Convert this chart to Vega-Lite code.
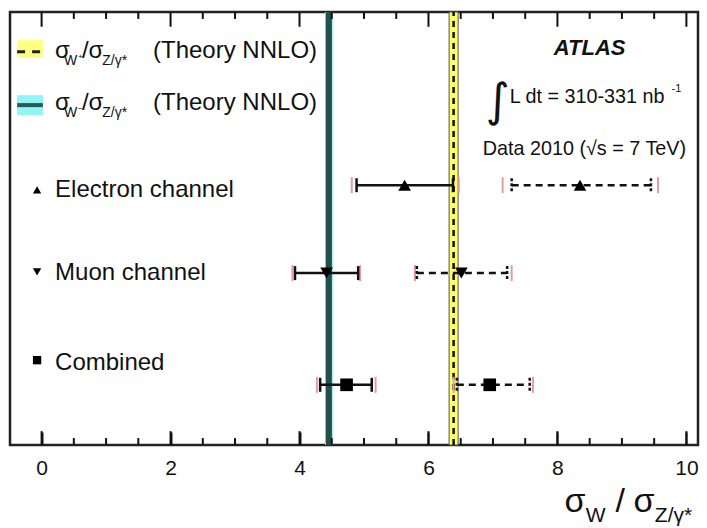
{
  "$schema": "https://vega.github.io/schema/vega-lite/v6.json",
  "width": 688,
  "height": 433,
  "autosize": {"type": "none"},
  "padding": {"left": 10, "top": 12, "right": 9, "bottom": 83},
  "background": "white",
  "config": {"view": {"stroke": "#222", "strokeWidth": 2.5}, "font": "Liberation Sans"},
  "datasets": {
    "theory": [
      {"th": "Wp", "lo": 6.32, "hi": 6.46, "c": 6.39},
      {"th": "Wm", "lo": 4.395, "hi": 4.515, "c": 4.455}
    ],
    "tk": [
      {"v": 0, "major": 1}, {"v": 0.5, "major": 0}, {"v": 1, "major": 0}, {"v": 1.5, "major": 0},
      {"v": 2, "major": 1}, {"v": 2.5, "major": 0}, {"v": 3, "major": 0}, {"v": 3.5, "major": 0},
      {"v": 4, "major": 1}, {"v": 4.5, "major": 0}, {"v": 5, "major": 0}, {"v": 5.5, "major": 0},
      {"v": 6, "major": 1}, {"v": 6.5, "major": 0}, {"v": 7, "major": 0}, {"v": 7.5, "major": 0},
      {"v": 8, "major": 1}, {"v": 8.5, "major": 0}, {"v": 9, "major": 0}, {"v": 9.5, "major": 0},
      {"v": 10, "major": 1}
    ],
    "meas": [
      {"ch": "Electron", "series": "Wm", "y": 6.0, "val": 5.63, "lo": 4.885, "hi": 6.38, "lo2": 4.81, "hi2": 6.47},
      {"ch": "Electron", "series": "Wp", "y": 6.0, "val": 8.35, "lo": 7.29, "hi": 9.45, "lo2": 7.15, "hi2": 9.56},
      {"ch": "Muon", "series": "Wm", "y": 3.97, "val": 4.42, "lo": 3.93, "hi": 4.91, "lo2": 3.89, "hi2": 4.94},
      {"ch": "Muon", "series": "Wp", "y": 3.97, "val": 6.51, "lo": 5.82, "hi": 7.22, "lo2": 5.79, "hi2": 7.29},
      {"ch": "Combined", "series": "Wm", "y": 1.39, "val": 4.73, "lo": 4.32, "hi": 5.12, "lo2": 4.27, "hi2": 5.18},
      {"ch": "Combined", "series": "Wp", "y": 1.39, "val": 6.95, "lo": 6.44, "hi": 7.57, "lo2": 6.39, "hi2": 7.62}
    ],
    "chlab": [
      {"ch": "Electron", "x": -0.07, "y": 5.89},
      {"ch": "Muon", "x": -0.07, "y": 4.0},
      {"ch": "Combined", "x": -0.07, "y": 1.96}
    ],
    "txt": [
      {"kind": "main", "x": 0.209, "y": 8.94, "t": "σ"},
      {"kind": "sub", "x": 0.349, "y": 8.94, "t": "W"},
      {"kind": "pm", "x": 0.565, "y": 8.94, "t": "+"},
      {"kind": "main", "x": 0.625, "y": 8.94, "t": "/σ"},
      {"kind": "sub", "x": 0.94, "y": 8.94, "t": "Z/γ*"},
      {"kind": "main", "x": 1.728, "y": 8.94, "t": "(Theory NNLO)"},
      {"kind": "main", "x": 0.209, "y": 7.74, "t": "σ"},
      {"kind": "sub", "x": 0.349, "y": 7.74, "t": "W"},
      {"kind": "pm", "x": 0.565, "y": 7.74, "t": "−"},
      {"kind": "main", "x": 0.625, "y": 7.74, "t": "/σ"},
      {"kind": "sub", "x": 0.94, "y": 7.74, "t": "Z/γ*"},
      {"kind": "main", "x": 1.728, "y": 7.74, "t": "(Theory NNLO)"},
      {"kind": "main", "x": 0.209, "y": 5.73, "t": "Electron channel"},
      {"kind": "main", "x": 0.209, "y": 3.81, "t": "Muon channel"},
      {"kind": "main", "x": 0.209, "y": 1.73, "t": "Combined"},
      {"kind": "atlas", "x": 8.5, "y": 9.01, "t": "ATLAS"},
      {"kind": "int", "x": 6.89, "y": 7.6, "t": "∫"},
      {"kind": "lumi", "x": 7.26, "y": 7.9, "t": "L dt = 310-331 nb"},
      {"kind": "sup", "x": 9.77, "y": 8.15, "t": "-1"},
      {"kind": "lumi", "x": 6.84, "y": 6.7, "t": "Data 2010 (√s = 7 TeV)"},
      {"kind": "title", "x": 8.11, "y": -1.55, "t": "σ"},
      {"kind": "tsub", "x": 8.44, "y": -1.55, "t": "W"},
      {"kind": "title", "x": 8.9, "y": -1.55, "t": "/"},
      {"kind": "title", "x": 9.18, "y": -1.55, "t": "σ"},
      {"kind": "tsub", "x": 9.51, "y": -1.55, "t": "Z/γ*"}
    ]
  },
  "layer": [
    {
      "data": {"name": "theory"},
      "transform": [{"filter": "datum.th === 'Wp'"}],
      "mark": {"type": "rect", "fill": "#ffff66", "stroke": "#555", "strokeWidth": 1},
      "encoding": {
        "x": {"field": "lo", "type": "quantitative", "scale": {"domain": [-0.49, 10.18], "nice": false, "zero": false},
          "axis": {"orient": "bottom", "values": [0, 2, 4, 6, 8, 10], "format": "d", "offset": -13,
            "domain": false, "grid": false, "title": null, "tickColor": "#111", "tickWidth": 2, "tickSize": 13,
            "labelFont": "Liberation Sans", "labelFontSize": 21, "labelColor": "#111", "labelPadding": 12,
            "labelFlush": false, "labelOverlap": false}},
        "x2": {"field": "hi"},
        "y": {"datum": 0, "type": "quantitative", "scale": {"domain": [0, 10], "nice": false, "zero": false}, "axis": null},
        "y2": {"datum": 10}
      }
    },
    {
      "data": {"name": "theory"},
      "transform": [{"filter": "datum.th === 'Wm'"}],
      "mark": {"type": "rect", "fill": "#7eeaea"},
      "encoding": {
        "x": {"field": "lo", "type": "quantitative"},
        "x2": {"field": "hi"},
        "y": {"datum": 0, "type": "quantitative"},
        "y2": {"datum": 10}
      }
    },
    {
      "data": {"name": "theory"},
      "transform": [{"filter": "datum.th === 'Wp'"}],
      "mark": {"type": "rule", "color": "#111", "strokeWidth": 2.5, "strokeDash": [6, 5]},
      "encoding": {
        "x": {"field": "c", "type": "quantitative"},
        "y": {"datum": 0, "type": "quantitative"},
        "y2": {"datum": 10}
      }
    },
    {
      "data": {"name": "theory"},
      "transform": [{"filter": "datum.th === 'Wm'"}],
      "mark": {"type": "rule", "color": "#24504b", "strokeWidth": 6},
      "encoding": {
        "x": {"field": "c", "type": "quantitative"},
        "y": {"datum": 0, "type": "quantitative"},
        "y2": {"datum": 10}
      }
    },
    {
      "data": {"name": "tk"},
      "transform": [{"filter": "datum.major === 0"}],
      "mark": {"type": "rect", "fill": "#111", "xOffset": -1, "x2Offset": 1},
      "encoding": {
        "x": {"field": "v", "type": "quantitative"},
        "x2": {"field": "v"},
        "y": {"datum": 0, "type": "quantitative"},
        "y2": {"datum": 0.16}
      }
    },
    {
      "data": {"name": "tk"},
      "transform": [{"filter": "datum.major === 1"}],
      "mark": {"type": "rect", "fill": "#111", "xOffset": -1, "x2Offset": 1},
      "encoding": {
        "x": {"field": "v", "type": "quantitative"},
        "x2": {"field": "v"},
        "y": {"datum": 0, "type": "quantitative"},
        "y2": {"datum": 0.32}
      }
    },
    {
      "data": {"name": "tk"},
      "transform": [{"filter": "datum.major === 0"}],
      "mark": {"type": "rect", "fill": "#111", "xOffset": -1, "x2Offset": 1},
      "encoding": {
        "x": {"field": "v", "type": "quantitative"},
        "x2": {"field": "v"},
        "y": {"datum": 9.84, "type": "quantitative"},
        "y2": {"datum": 10}
      }
    },
    {
      "data": {"name": "tk"},
      "transform": [{"filter": "datum.major === 1"}],
      "mark": {"type": "rect", "fill": "#111", "xOffset": -1, "x2Offset": 1},
      "encoding": {
        "x": {"field": "v", "type": "quantitative"},
        "x2": {"field": "v"},
        "y": {"datum": 9.66, "type": "quantitative"},
        "y2": {"datum": 10}
      }
    },
    {
      "data": {"name": "meas"},
      "mark": {"type": "rule", "color": "#e59c9c", "strokeWidth": 2, "yOffset": -8, "y2Offset": 8},
      "encoding": {
        "x": {"field": "lo2", "type": "quantitative"},
        "y": {"field": "y", "type": "quantitative"},
        "y2": {"field": "y"}
      }
    },
    {
      "data": {"name": "meas"},
      "mark": {"type": "rule", "color": "#e59c9c", "strokeWidth": 2, "yOffset": -8, "y2Offset": 8},
      "encoding": {
        "x": {"field": "hi2", "type": "quantitative"},
        "y": {"field": "y", "type": "quantitative"},
        "y2": {"field": "y"}
      }
    },
    {
      "data": {"name": "meas"},
      "transform": [{"filter": "datum.series === 'Wm'"}],
      "mark": {"type": "rule", "color": "#111", "strokeWidth": 2.5},
      "encoding": {
        "x": {"field": "lo", "type": "quantitative"},
        "x2": {"field": "hi"},
        "y": {"field": "y", "type": "quantitative"}
      }
    },
    {
      "data": {"name": "meas"},
      "transform": [{"filter": "datum.series === 'Wm'"}],
      "mark": {"type": "rule", "color": "#111", "strokeWidth": 2.5, "yOffset": -7, "y2Offset": 7},
      "encoding": {
        "x": {"field": "lo", "type": "quantitative"},
        "y": {"field": "y", "type": "quantitative"},
        "y2": {"field": "y"}
      }
    },
    {
      "data": {"name": "meas"},
      "transform": [{"filter": "datum.series === 'Wm'"}],
      "mark": {"type": "rule", "color": "#111", "strokeWidth": 2.5, "yOffset": -7, "y2Offset": 7},
      "encoding": {
        "x": {"field": "hi", "type": "quantitative"},
        "y": {"field": "y", "type": "quantitative"},
        "y2": {"field": "y"}
      }
    },
    {
      "data": {"name": "meas"},
      "transform": [{"filter": "datum.series === 'Wp'"}],
      "mark": {"type": "rule", "color": "#111", "strokeWidth": 2.5, "strokeDash": [7, 5]},
      "encoding": {
        "x": {"field": "lo", "type": "quantitative"},
        "x2": {"field": "hi"},
        "y": {"field": "y", "type": "quantitative"}
      }
    },
    {
      "data": {"name": "meas"},
      "transform": [{"filter": "datum.series === 'Wp'"}],
      "mark": {"type": "rule", "color": "#111", "strokeWidth": 2.5, "strokeDash": [3, 2], "yOffset": -7, "y2Offset": 7},
      "encoding": {
        "x": {"field": "lo", "type": "quantitative"},
        "y": {"field": "y", "type": "quantitative"},
        "y2": {"field": "y"}
      }
    },
    {
      "data": {"name": "meas"},
      "transform": [{"filter": "datum.series === 'Wp'"}],
      "mark": {"type": "rule", "color": "#111", "strokeWidth": 2.5, "strokeDash": [3, 2], "yOffset": -7, "y2Offset": 7},
      "encoding": {
        "x": {"field": "hi", "type": "quantitative"},
        "y": {"field": "y", "type": "quantitative"},
        "y2": {"field": "y"}
      }
    },
    {
      "data": {"name": "meas"},
      "mark": {"type": "point", "filled": true, "color": "#000", "opacity": 1, "size": 160},
      "encoding": {
        "x": {"field": "val", "type": "quantitative"},
        "y": {"field": "y", "type": "quantitative"},
        "shape": {"field": "ch", "type": "nominal", "scale": {"domain": ["Electron", "Muon", "Combined"], "range": ["triangle-up", "triangle-down", "square"]}, "legend": null}
      }
    },
    {
      "data": {"name": "chlab"},
      "mark": {"type": "point", "filled": true, "color": "#000", "opacity": 1, "size": 70},
      "encoding": {
        "x": {"field": "x", "type": "quantitative"},
        "y": {"field": "y", "type": "quantitative"},
        "shape": {"field": "ch", "type": "nominal", "legend": null}
      }
    },
    {
      "data": {"values": [{}]},
      "mark": {"type": "rect", "fill": "#ffff80"},
      "encoding": {
        "x": {"datum": -0.38, "type": "quantitative"},
        "x2": {"datum": 0.02},
        "y": {"datum": 8.94, "type": "quantitative"},
        "y2": {"datum": 9.35}
      }
    },
    {
      "data": {"values": [{}]},
      "mark": {"type": "rule", "color": "#222", "strokeWidth": 3, "strokeDash": [8, 7]},
      "encoding": {
        "x": {"datum": -0.38, "type": "quantitative"},
        "x2": {"datum": 0.0},
        "y": {"datum": 9.08, "type": "quantitative"}
      }
    },
    {
      "data": {"values": [{}]},
      "mark": {"type": "rect", "fill": "#8ff5f5"},
      "encoding": {
        "x": {"datum": -0.38, "type": "quantitative"},
        "x2": {"datum": 0.02},
        "y": {"datum": 7.62, "type": "quantitative"},
        "y2": {"datum": 8.08}
      }
    },
    {
      "data": {"values": [{}]},
      "mark": {"type": "rule", "color": "#2b5a55", "strokeWidth": 4},
      "encoding": {
        "x": {"datum": -0.38, "type": "quantitative"},
        "x2": {"datum": 0.02},
        "y": {"datum": 7.85, "type": "quantitative"}
      }
    },
    {
      "data": {"name": "txt"},
      "transform": [{"filter": "datum.kind === 'main'"}],
      "mark": {"type": "text", "align": "left", "baseline": "alphabetic", "fontSize": 24, "color": "#111", "font": "Liberation Sans"},
      "encoding": {
        "x": {"field": "x", "type": "quantitative"},
        "y": {"field": "y", "type": "quantitative"},
        "text": {"field": "t"}
      }
    },
    {
      "data": {"name": "txt"},
      "transform": [{"filter": "datum.kind === 'sub'"}],
      "mark": {"type": "text", "align": "left", "baseline": "alphabetic", "fontSize": 14, "dy": 7, "color": "#111", "font": "Liberation Sans"},
      "encoding": {
        "x": {"field": "x", "type": "quantitative"},
        "y": {"field": "y", "type": "quantitative"},
        "text": {"field": "t"}
      }
    },
    {
      "data": {"name": "txt"},
      "transform": [{"filter": "datum.kind === 'pm'"}],
      "mark": {"type": "text", "align": "left", "baseline": "alphabetic", "fontSize": 8, "dy": 1, "color": "#111", "font": "Liberation Sans"},
      "encoding": {
        "x": {"field": "x", "type": "quantitative"},
        "y": {"field": "y", "type": "quantitative"},
        "text": {"field": "t"}
      }
    },
    {
      "data": {"name": "txt"},
      "transform": [{"filter": "datum.kind === 'atlas'"}],
      "mark": {"type": "text", "align": "center", "baseline": "alphabetic", "fontSize": 22, "fontWeight": "bold", "fontStyle": "italic", "color": "#111", "font": "Liberation Sans"},
      "encoding": {
        "x": {"field": "x", "type": "quantitative"},
        "y": {"field": "y", "type": "quantitative"},
        "text": {"field": "t"}
      }
    },
    {
      "data": {"name": "txt"},
      "transform": [{"filter": "datum.kind === 'lumi'"}],
      "mark": {"type": "text", "align": "left", "baseline": "alphabetic", "fontSize": 19.8, "color": "#111", "font": "Liberation Sans"},
      "encoding": {
        "x": {"field": "x", "type": "quantitative"},
        "y": {"field": "y", "type": "quantitative"},
        "text": {"field": "t"}
      }
    },
    {
      "data": {"name": "txt"},
      "transform": [{"filter": "datum.kind === 'sup'"}],
      "mark": {"type": "text", "align": "left", "baseline": "alphabetic", "fontSize": 11, "color": "#111", "font": "Liberation Sans"},
      "encoding": {
        "x": {"field": "x", "type": "quantitative"},
        "y": {"field": "y", "type": "quantitative"},
        "text": {"field": "t"}
      }
    },
    {
      "data": {"name": "txt"},
      "transform": [{"filter": "datum.kind === 'int'"}],
      "mark": {"type": "text", "align": "left", "baseline": "alphabetic", "fontSize": 46, "color": "#111", "font": "DejaVu Sans"},
      "encoding": {
        "x": {"field": "x", "type": "quantitative"},
        "y": {"field": "y", "type": "quantitative"},
        "text": {"field": "t"}
      }
    },
    {
      "data": {"name": "txt"},
      "transform": [{"filter": "datum.kind === 'title'"}],
      "mark": {"type": "text", "align": "left", "baseline": "alphabetic", "fontSize": 34, "color": "#111", "font": "Liberation Sans"},
      "encoding": {
        "x": {"field": "x", "type": "quantitative"},
        "y": {"field": "y", "type": "quantitative"},
        "text": {"field": "t"}
      }
    },
    {
      "data": {"name": "txt"},
      "transform": [{"filter": "datum.kind === 'tsub'"}],
      "mark": {"type": "text", "align": "left", "baseline": "alphabetic", "fontSize": 21, "dy": 10, "color": "#111", "font": "Liberation Sans"},
      "encoding": {
        "x": {"field": "x", "type": "quantitative"},
        "y": {"field": "y", "type": "quantitative"},
        "text": {"field": "t"}
      }
    }
  ]
}
